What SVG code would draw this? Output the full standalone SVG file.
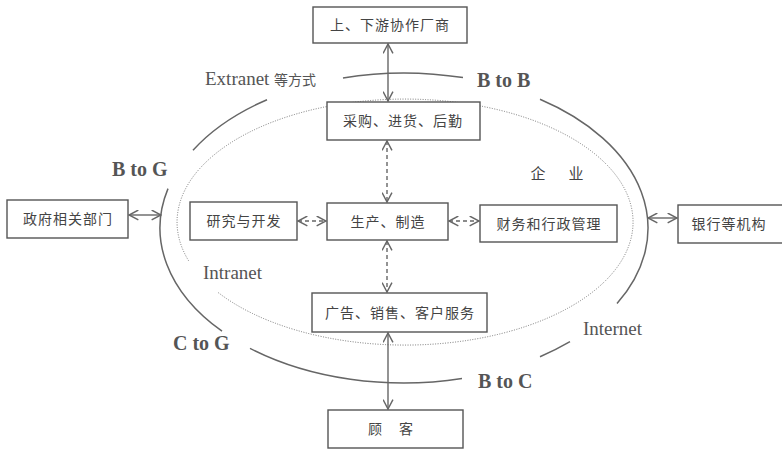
<svg xmlns="http://www.w3.org/2000/svg" width="782" height="451" viewBox="0 0 782 451">
<defs>
<style>
.box{fill:#fff;stroke:#555;stroke-width:1.4}
.cjk{font-family:"Noto Sans CJK SC","Noto Sans CJK JP",sans-serif;font-size:14px;fill:#444;letter-spacing:1px;text-anchor:middle}
.lat{font-family:"Liberation Serif",serif;font-size:19px;fill:#555}
.bold{font-family:"Liberation Serif",serif;font-size:20px;font-weight:bold;fill:#555}
.outer{fill:none;stroke:#666;stroke-width:1.5}
.inner{fill:none;stroke:#777;stroke-width:1;stroke-dasharray:1 1.5}
.solid{stroke:#666;stroke-width:1.4;fill:none}
.dash{stroke:#666;stroke-width:1.4;fill:none;stroke-dasharray:4 3}
</style>
<marker id="chev" viewBox="0 0 10 10" refX="9.5" refY="5" markerWidth="11" markerHeight="11" markerUnits="userSpaceOnUse" orient="auto-start-reverse">
<path d="M1,0.5 L9.5,5 L1,9.5" fill="none" stroke="#666" stroke-width="1.3"/>
</marker>
</defs>
<rect width="782" height="451" fill="#fff"/>

<g id="outer-ring">
<path class="outer" d="M343,77.9 A244,155 0 0 1 463,77.6"/>
<path class="outer" d="M540,99.3 A244,155 0 0 1 617,303.6"/>
<path class="outer" d="M570,341.7 A244,155 0 0 1 540,356.7"/>
<path class="outer" d="M462,378.5 A244,155 0 0 1 250,348.3"/>
<path class="outer" d="M222,331.2 A244,155 0 0 1 168,188.6"/>
<path class="outer" d="M193,150.2 A244,155 0 0 1 267,99.7"/>
</g>
<g id="inner-ring">
<path class="inner" d="M218,292.4 A228,123 0 1 0 189.4,262"/>
</g>

<g id="labels">
<text class="lat" x="205" y="85">Extranet <tspan style="font-family:'Noto Sans CJK SC',sans-serif;font-size:14px">等方式</tspan></text>
<text class="bold" x="477" y="87">B to B</text>
<text class="bold" x="112" y="176">B to G</text>
<text class="cjk" x="538" y="179" style="font-size:15px;letter-spacing:0">企</text>
<text class="cjk" x="576" y="179" style="font-size:15px;letter-spacing:0">业</text>
<text class="lat" x="203" y="279">Intranet</text>
<text class="lat" x="583" y="335">Internet</text>
<text class="bold" x="173" y="350">C to G</text>
<text class="bold" x="478" y="388">B to C</text>
</g>

<g id="connectors">
<line class="solid" x1="388" y1="44" x2="388" y2="101" marker-start="url(#chev)" marker-end="url(#chev)"/>
<line class="dash" x1="387" y1="141" x2="387" y2="202" marker-start="url(#chev)" marker-end="url(#chev)"/>
<line class="dash" x1="387" y1="241" x2="387" y2="292" marker-start="url(#chev)" marker-end="url(#chev)"/>
<line class="solid" x1="388" y1="333" x2="388" y2="409" marker-start="url(#chev)" marker-end="url(#chev)"/>
<line class="dash" x1="298" y1="221" x2="326" y2="221" marker-start="url(#chev)" marker-end="url(#chev)"/>
<line class="dash" x1="449" y1="221" x2="479" y2="221" marker-start="url(#chev)" marker-end="url(#chev)"/>
<line class="solid" x1="129" y1="215" x2="161" y2="215" marker-start="url(#chev)" marker-end="url(#chev)"/>
<line class="solid" x1="648" y1="218" x2="677" y2="218" marker-start="url(#chev)" marker-end="url(#chev)"/>
</g>

<g id="n-supplier"><rect class="box" x="313" y="7" width="154" height="36"/><text class="cjk" x="390" y="30">上、下游协作厂商</text></g>
<g id="n-purchase"><rect class="box" x="327" y="102" width="153" height="38"/><text class="cjk" x="403" y="126">采购、进货、后勤</text></g>
<g id="n-production"><rect class="box" x="327" y="203" width="121" height="37"/><text class="cjk" x="388" y="227">生产、制造</text></g>
<g id="n-rnd"><rect class="box" x="190" y="202" width="107" height="38"/><text class="cjk" x="244" y="226">研究与开发</text></g>
<g id="n-finance"><rect class="box" x="480" y="205" width="137" height="37"/><text class="cjk" x="549" y="229">财务和行政管理</text></g>
<g id="n-gov"><rect class="box" x="7" y="200" width="121" height="38"/><text class="cjk" x="68" y="224">政府相关部门</text></g>
<g id="n-bank"><rect class="box" x="678" y="205" width="106" height="38"/><text class="cjk" x="729" y="229">银行等机构</text></g>
<g id="n-sales"><rect class="box" x="312" y="293" width="175" height="39"/><text class="cjk" x="400" y="318">广告、销售、客户服务</text></g>
<g id="n-customer"><rect class="box" x="328" y="410" width="135" height="38"/><text class="cjk" x="375" y="434" style="letter-spacing:0">顾</text><text class="cjk" x="406" y="434" style="letter-spacing:0">客</text></g>
</svg>
